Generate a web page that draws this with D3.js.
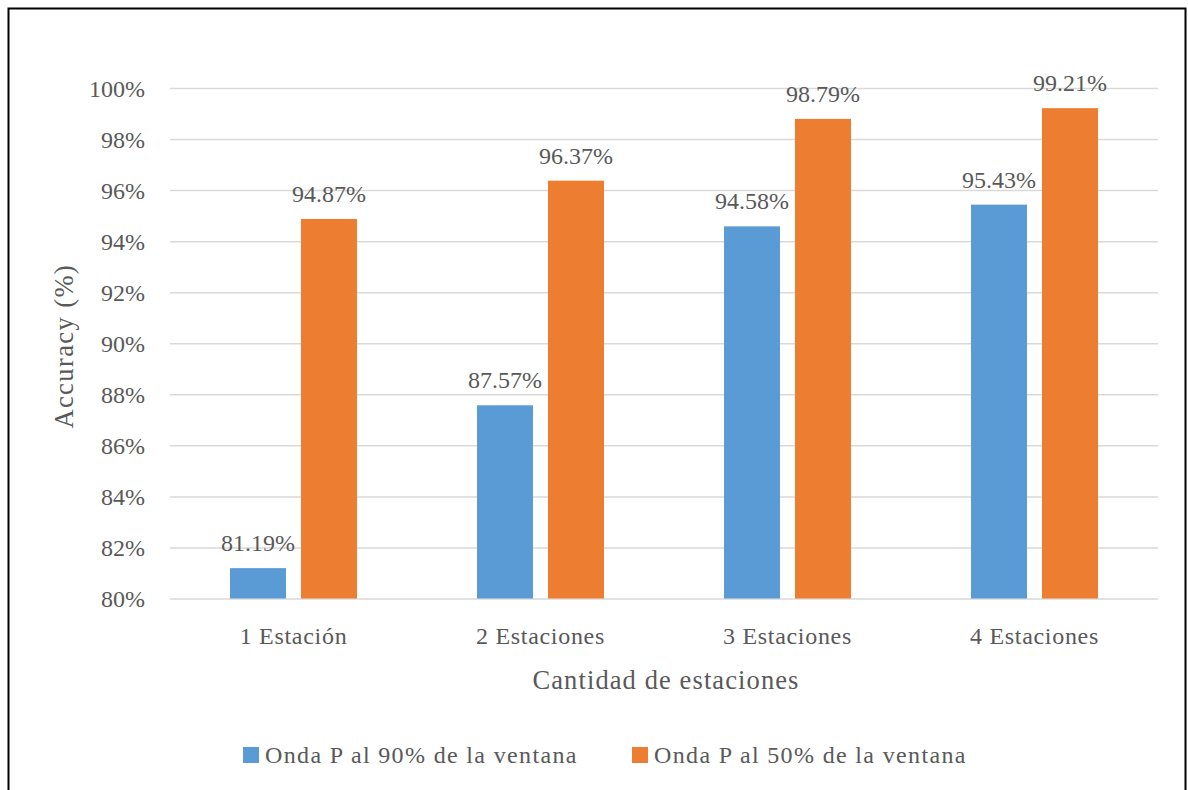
<!DOCTYPE html>
<html>
<head>
<meta charset="utf-8">
<script src="https://cdn.jsdelivr.net/npm/d3@7"></script>
<style>
  html, body { margin: 0; padding: 0; background: #fff; }
  svg { display: block; }
  svg text { font-family: "Liberation Serif", "Tinos", "Times New Roman", serif; }
</style>
</head>
<body>
<svg id="chart" width="1188" height="790" font-family="Liberation Serif"></svg>
<script>
const categories = ["1 Estación", "2 Estaciones", "3 Estaciones", "4 Estaciones"];
const seriesNames = ["Onda P al 90% de la ventana", "Onda P al 50% de la ventana"];
const seriesColors = ["#5B9BD5", "#ED7D31"];
const p90 = [81.19, 87.57, 94.58, 95.43];
const p50 = [94.87, 96.37, 98.79, 99.21];
const yTicks = [80, 82, 84, 86, 88, 90, 92, 94, 96, 98, 100];
const xTitle = "Cantidad de estaciones";
const yTitle = "Accuracy (%)";

const TXT = "#595959";

const seriesValues = [p90, p50];
const data = categories.map((c, i) => ({
  cat: c,
  vals: seriesNames.map((s, j) => ({ series: s, idx: j, value: seriesValues[j][i] }))
}));

const svg = d3.select("#chart");

// frame
svg.append("rect")
  .attr("x", 8.5).attr("y", 8.5)
  .attr("width", 1177).attr("height", 800)
  .attr("fill", "none").attr("stroke", "#000").attr("stroke-width", 2);

const plot = { left: 170, right: 1158, top: 88, bottom: 598.5 };

const x0 = d3.scaleBand().domain(categories).range([plot.left, plot.right]).paddingInner(0).paddingOuter(0);
const x1 = d3.scaleBand().domain(seriesNames).range([0, x0.bandwidth()]).paddingInner(0.211).paddingOuter(0.845);
const y = d3.scaleLinear().domain([80, 100]).range([plot.bottom, plot.top]);

// gridlines via axis
const yAxis = d3.axisLeft(y).tickValues(yTicks).tickSize(-(plot.right - plot.left)).tickFormat(d => d + "%").tickPadding(25);
const gy = svg.append("g").attr("transform", `translate(${plot.left},0)`).call(yAxis);
gy.attr("font-family", "Liberation Serif").attr("font-size", 24);
gy.select(".domain").remove();
gy.selectAll(".tick line").attr("stroke", "#D9D9D9").attr("stroke-width", 1.5);
gy.selectAll(".tick text").attr("fill", TXT).attr("dy", "0.34em");

// bars
const groups = svg.append("g").selectAll("g").data(data).join("g")
  .attr("transform", d => `translate(${x0(d.cat)},0)`);

groups.selectAll("rect").data(d => d.vals).join("rect")
  .attr("x", d => x1(d.series))
  .attr("width", x1.bandwidth())
  .attr("y", d => y(d.value))
  .attr("height", d => y(80) - y(d.value))
  .attr("fill", d => seriesColors[d.idx]);

groups.selectAll("text.lbl").data(d => d.vals).join("text")
  .attr("class", "lbl")
  .attr("x", d => x1(d.series) + x1.bandwidth() / 2)
  .attr("y", d => y(d.value) - 17)
  .attr("text-anchor", "middle")
  .attr("fill", TXT)
  .attr("font-size", 24)
  .text(d => d.value.toFixed(2) + "%");

// x axis labels
const xAxis = d3.axisBottom(x0).tickSize(0).tickPadding(28);
const gx = svg.append("g").attr("transform", `translate(0,${plot.bottom})`).call(xAxis);
gx.attr("font-family", "Liberation Serif").attr("font-size", 24);
gx.select(".domain").remove();
gx.selectAll(".tick text").attr("fill", TXT).attr("letter-spacing", 0.7);

// axis titles
svg.append("text")
  .attr("x", (plot.left + plot.right) / 2 + 2).attr("y", 689)
  .attr("text-anchor", "middle").attr("font-size", 26.5).attr("letter-spacing", 1.1)
  .attr("fill", TXT)
  .text(xTitle);

svg.append("text")
  .attr("transform", `translate(73,${(plot.top + plot.bottom) / 2 + 3}) rotate(-90)`)
  .attr("text-anchor", "middle").attr("font-size", 26.5).attr("letter-spacing", 1.4)
  .attr("fill", TXT)
  .text(yTitle);

// legend
const legendX = [243, 632];
const leg = svg.append("g").selectAll("g").data(seriesNames).join("g")
  .attr("transform", (d, i) => `translate(${legendX[i]},747)`);
leg.append("rect").attr("width", 16).attr("height", 16).attr("fill", (d, i) => seriesColors[i]);
leg.append("text").attr("x", 22).attr("y", 16).attr("font-size", 24).attr("letter-spacing", 1.35)
  .attr("fill", TXT)
  .text(d => d);
</script>
</body>
</html>
